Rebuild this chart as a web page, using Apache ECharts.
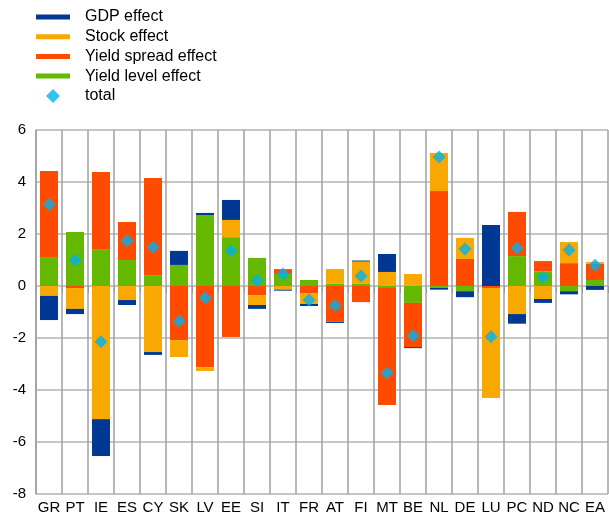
<!DOCTYPE html>
<html>
<head>
<meta charset="utf-8">
<script src="https://cdn.jsdelivr.net/npm/echarts@6/dist/echarts.min.js"></script>
<style>html,body{margin:0;padding:0;background:#fff}#c{width:609px;height:515px}</style>
</head>
<body>
<div id="c"></div>
<script>
const categories = ['GR','PT','IE','ES','CY','SK','LV','EE','SI','IT','FR','AT','FI','MT','BE','NL','DE','LU','PC','ND','NC','EA'];
const gdpEffect    = [-0.93,-0.20,-1.42,-0.19,-0.11, 0.54, 0.08, 0.77,-0.15,-0.04,-0.08,-0.04, 0.04, 0.69,-0.04,-0.07,-0.23, 2.35,-0.37,-0.15,-0.12,-0.15];
const stockEffect  = [-0.38,-0.80,-5.12,-0.54,-2.54,-0.65,-0.15, 0.66,-0.38,-0.14,-0.42, 0.57, 0.86, 0.54, 0.46, 1.47, 0.81,-4.23,-1.08,-0.50, 0.81, 0.07];
const spreadEffect = [ 3.30,-0.08, 2.96, 1.46, 3.73,-2.08,-3.12,-1.96,-0.35, 0.19,-0.27,-1.38,-0.62,-4.50,-1.70, 3.65, 1.04,-0.08, 1.70, 0.40, 0.88, 0.62];
const levelEffect  = [ 1.12, 2.08, 1.42, 1.00, 0.42, 0.81, 2.73, 1.88, 1.08, 0.46, 0.23, 0.08, 0.08,-0.08,-0.65,-0.07,-0.20, 0.00, 1.15, 0.56,-0.20, 0.23];
const total        = [ 3.13, 1.00,-2.14, 1.74, 1.49,-1.35,-0.46, 1.36, 0.21, 0.46,-0.54,-0.76, 0.38,-3.35,-1.91, 4.96, 1.42,-1.95, 1.45, 0.34, 1.38, 0.80];
const yTicks = [-8, 6, 2];

const C = {gdp:'#003893', stock:'#F8A800', spread:'#FF4B00', level:'#65B800', total:'#00B1EA'};
const font = '"Liberation Sans", Arial, sans-serif';

const chart = echarts.init(document.getElementById('c'), null, {renderer:'canvas'});
function bar(name, data, color){
  return {name, type:'bar', stack:'s', data, barWidth:18, itemStyle:{color}, emphasis:{disabled:true}};
}
chart.setOption({
  animation:false,
  textStyle:{fontFamily:font},
  legend:[{
    orient:'vertical', left:36, top:9, padding:0, itemWidth:34, itemHeight:5, itemGap:3.7, icon:'rect',
    textStyle:{fontSize:16, color:'#000', lineHeight:16, fontFamily:font, padding:[0,0,0,10]},
    data:['GDP effect','Stock effect','Yield spread effect','Yield level effect']
  },{
    orient:'vertical', left:46, top:88, padding:0, itemWidth:14, itemHeight:14, icon:'diamond',
    textStyle:{fontSize:16, color:'#000', lineHeight:16, fontFamily:font, padding:[0,0,0,20]},
    data:['total']
  }],
  grid:{left:36, right:1, top:130, bottom:21, containLabel:false},
  xAxis:{
    type:'category', data:categories, boundaryGap:true,
    axisLine:{show:false},
    axisTick:{show:true, alignWithLabel:false, length:7, lineStyle:{color:'#999'}},
    axisLabel:{fontSize:15, color:'#000', margin:6, interval:0, fontFamily:font},
    splitLine:{show:true, interval:0, lineStyle:{color:'#a0a0a0', width:1.5}}
  },
  yAxis:{
    type:'value', min:yTicks[0], max:yTicks[1], interval:yTicks[2],
    axisLine:{show:true, lineStyle:{color:'#a0a0a0', width:1.5}},
    axisTick:{show:false},
    axisLabel:{fontSize:15, color:'#000', margin:10, fontFamily:font},
    splitLine:{show:true, lineStyle:{color:'#c6c6c6', width:2}}
  },
  series:[
    bar('Yield level effect', levelEffect, C.level),
    bar('Yield spread effect', spreadEffect, C.spread),
    bar('Stock effect', stockEffect, C.stock),
    bar('GDP effect', gdpEffect, C.gdp),
    {name:'total', type:'scatter', data:total, symbol:'diamond', symbolSize:13, itemStyle:{color:C.total}, z:5}
  ]
});
</script>
</body>
</html>
